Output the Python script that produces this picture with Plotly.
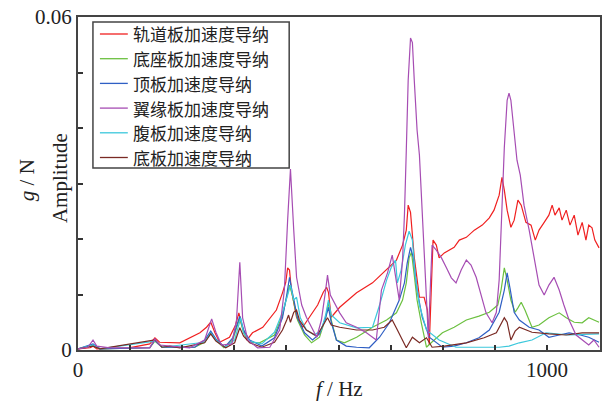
import plotly.graph_objects as go

# ---------------- data ----------------
series_names = ["轨道板加速度导纳", "底座板加速度导纳", "顶板加速度导纳",
                "翼缘板加速度导纳", "腹板加速度导纳", "底板加速度导纳"]
series_colors = ["#f02020", "#6cc040", "#2f5fc4", "#a64db3", "#3cc8dc", "#7a2a24"]

red_f = [0, 26, 32, 40, 109, 153, 164, 174, 217, 260, 274, 283, 292, 302, 323, 336, 343, 349, 360, 372,
         394, 423, 436, 443, 447, 451, 455, 466, 479, 494, 511, 523, 530, 534, 540, 558, 594, 628, 664, 679,
         692, 700, 704, 709, 717, 728, 738, 745, 749, 753, 757, 764, 770, 781, 792, 802, 813, 828, 845, 862,
         877, 887, 898, 904, 909, 915, 923, 930, 938, 945, 955, 966, 975, 983, 994, 1004, 1011, 1017, 1026,
         1032, 1041, 1049, 1058, 1066, 1075, 1083, 1089, 1096, 1102, 1111]
red_v = [0.0002, 0.0004, 0.0007, 0.0002, 0.0004, 0.0011, 0.0022, 0.0014, 0.0013, 0.0031, 0.0041, 0.0050,
         0.0031, 0.0014, 0.0023, 0.0045, 0.0067, 0.0045, 0.0018, 0.0031, 0.0041, 0.0072, 0.0103, 0.0122,
         0.0148, 0.0144, 0.0108, 0.0059, 0.0041, 0.0059, 0.0081, 0.0104, 0.0113, 0.0104, 0.0059, 0.0077,
         0.0103, 0.0121, 0.0149, 0.0162, 0.0189, 0.0216, 0.0261, 0.0248, 0.0167, 0.0095, 0.0095, 0.0072,
         0.0009, 0.0108, 0.0198, 0.0189, 0.0166, 0.0175, 0.0180, 0.0185, 0.0198, 0.0203, 0.0216, 0.0225,
         0.0238, 0.0252, 0.0279, 0.0311, 0.0288, 0.0252, 0.0221, 0.0234, 0.0270, 0.0261, 0.0230, 0.0225,
         0.0198, 0.0216, 0.0230, 0.0243, 0.0261, 0.0243, 0.0256, 0.0234, 0.0252, 0.0225, 0.0243, 0.0207,
         0.0230, 0.0198, 0.0225, 0.0220, 0.0198, 0.0184]

green_f = [0, 32, 47, 153, 164, 179, 249, 270, 283, 294, 311, 330, 345, 353, 366, 387, 419, 436, 445, 451,
           457, 468, 483, 498, 515, 528, 534, 540, 551, 568, 594, 628, 658, 679, 692, 700, 706, 711, 717,
           723, 732, 743, 753, 777, 802, 828, 855, 877, 895, 902, 909, 915, 923, 932, 938, 945, 953, 968,
           983, 1004, 1026, 1041, 1058, 1075, 1089, 1111]
green_v = [0.0002, 0.0009, 0.0002, 0.0004, 0.0016, 0.0005, 0.0005, 0.0014, 0.0032, 0.0018, 0.0004, 0.0018,
           0.0058, 0.0031, 0.0014, 0.0013, 0.0027, 0.0063, 0.0095, 0.0117, 0.0099, 0.0054, 0.0027, 0.0013,
           0.0023, 0.0058, 0.0086, 0.0054, 0.0018, 0.0013, 0.0023, 0.0041, 0.0054, 0.0067, 0.0090, 0.0121,
           0.0166, 0.0176, 0.0135, 0.0090, 0.0049, 0.0005, 0.0013, 0.0031, 0.0041, 0.0054, 0.0061, 0.0068,
           0.0081, 0.0108, 0.0148, 0.0126, 0.0090, 0.0068, 0.0076, 0.0086, 0.0072, 0.0041, 0.0045, 0.0058,
           0.0067, 0.0058, 0.0050, 0.0049, 0.0058, 0.0050]

blue_f = [0, 32, 47, 153, 164, 179, 249, 270, 283, 294, 313, 330, 345, 353, 366, 392, 419, 436, 445, 451,
          457, 468, 483, 500, 515, 528, 534, 540, 551, 572, 594, 621, 643, 664, 685, 696, 702, 709, 715, 723,
          734, 749, 777, 802, 828, 855, 877, 898, 909, 915, 921, 930, 941, 962, 983, 1004, 1026, 1047, 1071,
          1089, 1111]
blue_v = [0.0002, 0.0011, 0.0002, 0.0004, 0.0018, 0.0005, 0.0005, 0.0018, 0.0034, 0.0020, 0.0005, 0.0022,
          0.0061, 0.0036, 0.0018, 0.0007, 0.0022, 0.0058, 0.0099, 0.0131, 0.0104, 0.0058, 0.0031, 0.0018,
          0.0029, 0.0058, 0.0077, 0.0050, 0.0018, 0.0007, 0.0005, 0.0004, 0.0023, 0.0049, 0.0090, 0.0121,
          0.0157, 0.0185, 0.0166, 0.0108, 0.0059, 0.0023, 0.0005, 0.0007, 0.0013, 0.0022, 0.0036, 0.0068,
          0.0108, 0.0139, 0.0112, 0.0068, 0.0054, 0.0041, 0.0036, 0.0023, 0.0027, 0.0031, 0.0027, 0.0023,
          0.0014]

purple_f = [0, 21, 32, 40, 68, 153, 164, 174, 238, 270, 285, 294, 306, 328, 338, 345, 351, 362, 383, 409,
            430, 440, 447, 453, 460, 466, 477, 487, 509, 519, 528, 532, 538, 558, 572, 594, 615, 636, 647,
            660, 670, 679, 685, 692, 696, 700, 704, 709, 713, 717, 723, 728, 734, 738, 745, 747, 751, 755,
            764, 775, 785, 796, 806, 817, 828, 838, 849, 860, 870, 883, 892, 898, 904, 909, 915, 919, 923,
            930, 936, 943, 951, 962, 973, 983, 994, 1004, 1015, 1026, 1036, 1047, 1062, 1075, 1089, 1100,
            1111]
purple_v = [0.0002, 0.0005, 0.0018, 0.0007, 0.0004, 0.0004, 0.0020, 0.0009, 0.0004, 0.0018, 0.0056, 0.0032,
            0.0009, 0.0011, 0.0054, 0.0158, 0.0058, 0.0018, 0.0004, 0.0005, 0.0036, 0.0108, 0.0234, 0.0326,
            0.0216, 0.0131, 0.0081, 0.0059, 0.0023, 0.0054, 0.0108, 0.0135, 0.0099, 0.0067, 0.0049, 0.0041,
            0.0031, 0.0018, 0.0108, 0.0139, 0.0171, 0.0121, 0.0090, 0.0162, 0.0243, 0.0360, 0.0486, 0.0562,
            0.0554, 0.0486, 0.0396, 0.0351, 0.0252, 0.0175, 0.0054, 0.0023, 0.0108, 0.0189, 0.0180, 0.0166,
            0.0149, 0.0130, 0.0121, 0.0144, 0.0162, 0.0153, 0.0131, 0.0099, 0.0067, 0.0049, 0.0068, 0.0126,
            0.0270, 0.0365, 0.0450, 0.0463, 0.0450, 0.0396, 0.0342, 0.0315, 0.0261, 0.0216, 0.0162, 0.0117,
            0.0099, 0.0117, 0.0131, 0.0108, 0.0081, 0.0054, 0.0027, 0.0018, 0.0009, 0.0018, 0.0005]

cyan_f = [0, 32, 47, 164, 179, 270, 283, 294, 313, 334, 347, 353, 366, 392, 419, 436, 447, 453, 460, 466,
          474, 487, 504, 519, 528, 534, 540, 558, 594, 628, 643, 658, 668, 677, 681, 689, 698, 706, 713, 719,
          728, 743, 770, 806, 855, 898, 919, 941, 968, 998, 1047, 1111]
cyan_v = [0.0002, 0.0009, 0.0002, 0.0016, 0.0005, 0.0014, 0.0031, 0.0018, 0.0005, 0.0018, 0.0058, 0.0031,
          0.0016, 0.0011, 0.0032, 0.0068, 0.0099, 0.0117, 0.0090, 0.0095, 0.0058, 0.0036, 0.0027, 0.0036,
          0.0063, 0.0090, 0.0063, 0.0049, 0.0040, 0.0041, 0.0081, 0.0126, 0.0149, 0.0162, 0.0121, 0.0144,
          0.0189, 0.0214, 0.0198, 0.0135, 0.0081, 0.0036, 0.0018, 0.0005, 0.0005, 0.0005, 0.0007, 0.0013,
          0.0018, 0.0031, 0.0027, 0.0029]

brown_f = [0, 32, 47, 164, 179, 196, 217, 270, 283, 294, 315, 334, 345, 353, 366, 392, 419, 436, 445, 449,
           453, 460, 466, 472, 487, 509, 523, 532, 540, 558, 594, 628, 653, 670, 681, 692, 700, 713, 728, 743,
           755, 781, 828, 866, 892, 909, 915, 923, 932, 941, 968, 1004, 1041, 1075, 1111]
brown_v = [0.0002, 0.0007, 0.0002, 0.0018, 0.0005, 0.0007, 0.0004, 0.0013, 0.0029, 0.0016, 0.0004, 0.0013,
           0.0040, 0.0025, 0.0013, 0.0005, 0.0014, 0.0036, 0.0054, 0.0063, 0.0050, 0.0068, 0.0072, 0.0054,
           0.0036, 0.0025, 0.0045, 0.0058, 0.0045, 0.0041, 0.0036, 0.0036, 0.0041, 0.0054, 0.0036, 0.0018,
           0.0004, 0.0023, 0.0013, 0.0022, 0.0005, 0.0007, 0.0013, 0.0022, 0.0031, 0.0058, 0.0050, 0.0018,
           0.0034, 0.0041, 0.0032, 0.0029, 0.0027, 0.0031, 0.0031]

x_tick_vals = [i * 1000 / 9 for i in range(10)]
x_tick_text = ["0"] + [""] * 8 + ["1000"]
y_tick_vals = [0, 0.01, 0.02, 0.03, 0.04, 0.05, 0.06]
y_tick_text = ["0", "", "", "", "", "", "0.06"]

# ---------------- figure ----------------
serif = "Liberation Serif, Times New Roman, serif"
cjk = "Noto Sans CJK SC"

data = [(red_f, red_v), (green_f, green_v), (blue_f, blue_v),
        (purple_f, purple_v), (cyan_f, cyan_v), (brown_f, brown_v)]
draw_order = [0, 1, 2, 4, 5, 3]  # purple drawn on top

fig = go.Figure()
for i in draw_order:
    f, v = data[i]
    fig.add_trace(go.Scatter(x=f, y=v, mode="lines", name=series_names[i],
                             line=dict(color=series_colors[i], width=1.2),
                             showlegend=False))

W, H = 603, 401
L, R, T, B = 78, 1, 17, 51
pw, ph = W - L - R, H - T - B


def px(x):
    return (x - L) / pw


def py(y):
    return (H - B - y) / ph


shapes = []
annotations = []
# legend box (drawn by hand so that its compact size matches the original)
row0, row_gap = 34, 24.7
shapes.append(dict(type="rect", xref="paper", yref="paper",
                   x0=px(93), x1=px(290), y0=py(168), y1=py(22),
                   line=dict(color="#444444", width=1.5), fillcolor="white", layer="below"))
for i, name in enumerate(series_names):
    yc = row0 + row_gap * i
    shapes.append(dict(type="line", xref="paper", yref="paper",
                       x0=px(100), x1=px(128), y0=py(yc), y1=py(yc),
                       line=dict(color=series_colors[i], width=1.3), layer="above"))
    annotations.append(dict(xref="paper", yref="paper", x=px(131), y=py(yc),
                            xanchor="left", yanchor="middle", showarrow=False,
                            text=name, font=dict(family=cjk, size=17, color="#222222")))

# axis titles
annotations.append(dict(xref="paper", yref="paper", x=px(27), y=py(180),
                        xanchor="center", yanchor="middle", showarrow=False, textangle=-90,
                        text="<i>g</i> / N", font=dict(family=serif, size=21, color="#222222")))
annotations.append(dict(xref="paper", yref="paper", x=px(60), y=py(178),
                        xanchor="center", yanchor="middle", showarrow=False, textangle=-90,
                        text="Amplitude", font=dict(family=serif, size=21, color="#222222")))
annotations.append(dict(xref="paper", yref="paper", x=px(341), y=py(389),
                        xanchor="center", yanchor="middle", showarrow=False,
                        text="<i>f</i> / Hz", font=dict(family=serif, size=21, color="#222222")))

axis_common = dict(showline=True, linecolor="#444444", linewidth=2, mirror=True,
                   ticks="inside", ticklen=5, tickwidth=1.5, tickcolor="#333333",
                   showgrid=False, zeroline=False,
                   tickfont=dict(family=serif, size=21, color="#222222"))

fig.update_layout(
    width=W, height=H,
    margin=dict(l=L, r=R, t=T, b=B),
    paper_bgcolor="white", plot_bgcolor="white",
    xaxis=dict(range=[0, 1113], tickmode="array", tickvals=x_tick_vals, ticktext=x_tick_text,
               **axis_common),
    yaxis=dict(range=[0, 0.06], tickmode="array", tickvals=y_tick_vals, ticktext=y_tick_text,
               **axis_common),
    shapes=shapes,
    annotations=annotations,
)

fig.write_html("out.html")
